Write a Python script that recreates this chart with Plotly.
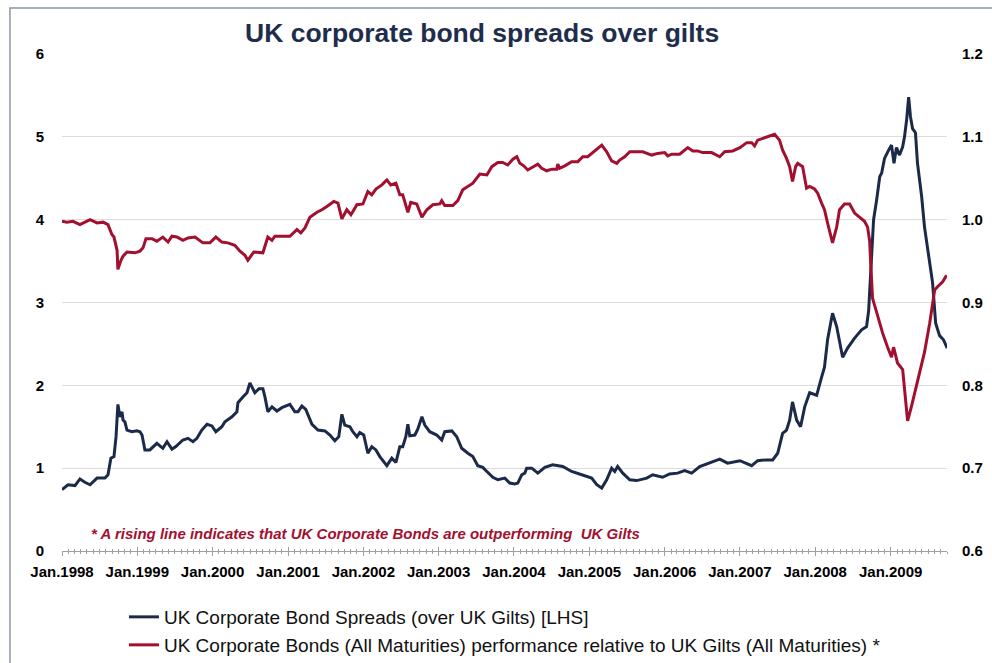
import plotly.graph_objects as go

# ---------------- data ----------------
spread_dates = [
    "1998-01-01", "1998-01-30", "1998-03-05", "1998-03-29", "1998-04-22", "1998-05-17", "1998-06-20",
    "1998-07-28", "1998-08-12", "1998-08-26", "1998-09-10", "1998-09-20", "1998-09-29", "1998-10-09",
    "1998-10-19", "1998-10-24", "1998-11-02", "1998-11-12", "1998-12-06", "1998-12-30", "1999-01-14",
    "1999-01-24", "1999-02-07", "1999-03-03", "1999-04-06", "1999-05-05", "1999-05-25", "1999-06-18",
    "1999-07-07", "1999-08-10", "1999-09-04", "1999-09-28", "1999-10-17", "1999-11-10", "1999-12-05",
    "1999-12-29", "2000-01-17", "2000-02-15", "2000-03-01", "2000-04-04", "2000-04-28", "2000-05-03",
    "2000-05-27", "2000-06-16", "2000-06-30", "2000-07-24", "2000-08-13", "2000-09-01", "2000-09-11",
    "2000-09-25", "2000-10-15", "2000-11-08", "2000-12-02", "2000-12-31", "2001-01-10", "2001-02-03",
    "2001-02-18", "2001-03-09", "2001-03-28", "2001-04-27", "2001-05-26", "2001-06-29", "2001-07-23",
    "2001-08-16", "2001-09-04", "2001-09-19", "2001-10-03", "2001-10-28", "2001-11-11", "2001-12-01",
    "2001-12-15", "2002-01-03", "2002-01-23", "2002-02-11", "2002-03-03", "2002-03-22", "2002-04-25",
    "2002-05-19", "2002-06-08", "2002-06-27", "2002-07-11", "2002-07-26", "2002-08-05", "2002-08-14",
    "2002-09-08", "2002-09-22", "2002-10-12", "2002-10-26", "2002-11-19", "2002-12-23", "2003-01-16",
    "2003-01-31", "2003-03-06", "2003-03-30", "2003-04-23", "2003-05-23", "2003-06-16", "2003-07-10",
    "2003-08-03", "2003-08-23", "2003-09-21", "2003-10-15", "2003-11-18", "2003-12-12", "2004-01-05",
    "2004-01-20", "2004-02-08", "2004-02-23", "2004-03-03", "2004-03-28", "2004-04-26", "2004-05-30",
    "2004-07-07", "2004-08-25", "2004-10-07", "2004-11-25", "2005-01-12", "2005-02-06", "2005-03-02",
    "2005-03-26", "2005-04-19", "2005-05-04", "2005-05-18", "2005-06-12", "2005-07-16", "2005-08-18",
    "2005-10-06", "2005-11-04", "2005-12-22", "2006-01-25", "2006-03-05", "2006-04-08", "2006-05-12",
    "2006-06-20", "2006-08-07", "2006-09-25", "2006-11-02", "2007-01-01", "2007-02-27", "2007-03-28",
    "2007-05-10", "2007-06-09", "2007-07-03", "2007-07-27", "2007-08-15", "2007-08-30", "2007-09-13",
    "2007-10-03", "2007-10-22", "2007-11-11", "2007-12-05", "2008-01-08", "2008-02-01", "2008-02-15",
    "2008-03-01", "2008-03-25", "2008-04-14", "2008-04-28", "2008-05-13", "2008-06-06", "2008-07-10",
    "2008-08-13", "2008-09-06", "2008-09-16", "2008-10-01", "2008-10-10", "2008-10-25", "2008-11-09",
    "2008-11-18", "2008-12-02", "2008-12-22", "2009-01-05", "2009-01-17", "2009-01-29", "2009-02-13",
    "2009-02-28", "2009-03-09", "2009-03-19", "2009-03-29", "2009-04-07", "2009-04-17", "2009-05-01",
    "2009-05-11", "2009-05-31", "2009-06-14", "2009-06-29", "2009-07-13", "2009-07-23", "2009-08-07",
    "2009-08-26", "2009-09-14", "2009-10-02",
]
spread_values = [
    0.74, 0.80, 0.79, 0.87, 0.83, 0.80, 0.88,
    0.88, 0.92, 1.12, 1.14, 1.38, 1.77, 1.62,
    1.68, 1.58, 1.56, 1.46, 1.44, 1.45, 1.44,
    1.40, 1.22, 1.22, 1.30, 1.24, 1.32, 1.23,
    1.26, 1.34, 1.36, 1.32, 1.36, 1.46, 1.53,
    1.51, 1.44, 1.50, 1.56, 1.62, 1.68, 1.79,
    1.86, 1.91, 2.03, 1.91, 1.96, 1.96, 1.86,
    1.68, 1.74, 1.69, 1.73, 1.76, 1.77, 1.68,
    1.68, 1.75, 1.71, 1.53, 1.46, 1.45, 1.40,
    1.33, 1.38, 1.65, 1.52, 1.50, 1.44, 1.38,
    1.43, 1.40, 1.18, 1.26, 1.22, 1.14, 1.03,
    1.12, 1.07, 1.26, 1.26, 1.38, 1.53, 1.39,
    1.40, 1.47, 1.62, 1.52, 1.44, 1.40, 1.34,
    1.44, 1.45, 1.38, 1.24, 1.18, 1.14, 1.03,
    1.01, 0.96, 0.89, 0.86, 0.88, 0.82, 0.81,
    0.82, 0.92, 0.94, 1.00, 1.00, 0.94, 1.01,
    1.04, 1.02, 0.96, 0.92, 0.88, 0.80, 0.76,
    0.86, 1.00, 0.96, 1.02, 0.94, 0.86, 0.85,
    0.88, 0.92, 0.89, 0.93, 0.94, 0.97, 0.94,
    1.02, 1.06, 1.11, 1.06, 1.09, 1.03, 1.09,
    1.10, 1.10, 1.18, 1.42, 1.46, 1.58, 1.80,
    1.58, 1.50, 1.74, 1.91, 1.88, 2.10, 2.22,
    2.55, 2.87, 2.71, 2.51, 2.34, 2.45, 2.57,
    2.67, 2.71, 2.90, 3.50, 4.00, 4.24, 4.52,
    4.56, 4.74, 4.84, 4.90, 4.68, 4.87, 4.78,
    4.88, 5.00, 5.20, 5.48, 5.24, 5.10, 5.05,
    4.68, 4.28, 3.91, 3.66, 3.43, 3.24, 2.75,
    2.60, 2.55, 2.45,
]

perf_dates = [
    "1998-01-01", "1998-01-25", "1998-02-23", "1998-03-29", "1998-05-17", "1998-06-20", "1998-07-19",
    "1998-08-12", "1998-08-31", "1998-09-10", "1998-09-25", "1998-09-29", "1998-10-14", "1998-10-24",
    "1998-11-12", "1998-12-21", "1999-01-14", "1999-01-29", "1999-02-12", "1999-03-13", "1999-04-06",
    "1999-05-05", "1999-05-30", "1999-06-18", "1999-07-12", "1999-08-10", "1999-09-04", "1999-10-08",
    "1999-11-15", "1999-12-19", "2000-01-17", "2000-02-15", "2000-03-15", "2000-04-18", "2000-05-13",
    "2000-06-06", "2000-06-20", "2000-07-19", "2000-09-01", "2000-09-25", "2000-10-15", "2000-10-29",
    "2000-12-17", "2001-01-10", "2001-02-13", "2001-03-04", "2001-03-24", "2001-04-17", "2001-05-21",
    "2001-06-14", "2001-07-08", "2001-08-11", "2001-08-31", "2001-09-19", "2001-10-13", "2001-11-02",
    "2001-12-01", "2001-12-30", "2002-01-23", "2002-02-11", "2002-03-03", "2002-04-01", "2002-04-25",
    "2002-05-14", "2002-06-08", "2002-06-27", "2002-07-11", "2002-08-05", "2002-08-19", "2002-09-17",
    "2002-10-12", "2002-11-05", "2002-12-04", "2003-01-07", "2003-01-16", "2003-01-31", "2003-03-11",
    "2003-04-04", "2003-04-28", "2003-05-23", "2003-06-16", "2003-07-20", "2003-08-23", "2003-09-16",
    "2003-10-15", "2003-11-08", "2003-12-02", "2003-12-27", "2004-01-15", "2004-01-30", "2004-02-18",
    "2004-03-08", "2004-04-02", "2004-04-26", "2004-05-15", "2004-06-08", "2004-07-03", "2004-07-27",
    "2004-08-01", "2004-08-10", "2004-09-04", "2004-10-07", "2004-11-06", "2004-11-30", "2004-12-24",
    "2005-01-27", "2005-03-02", "2005-03-26", "2005-04-19", "2005-05-14", "2005-05-28", "2005-06-21",
    "2005-07-16", "2005-08-23", "2005-09-17", "2005-10-30", "2005-11-28", "2006-01-01", "2006-01-16",
    "2006-02-04", "2006-03-15", "2006-04-23", "2006-05-17", "2006-06-10", "2006-07-04", "2006-08-17",
    "2006-09-25", "2006-10-19", "2006-11-27", "2007-01-01", "2007-02-03", "2007-02-27", "2007-03-13",
    "2007-03-28", "2007-05-10", "2007-06-18", "2007-07-12", "2007-07-27", "2007-08-15", "2007-08-30",
    "2007-09-13", "2007-09-28", "2007-10-08", "2007-11-01", "2007-11-20", "2007-12-05", "2007-12-29",
    "2008-01-13", "2008-02-01", "2008-02-15", "2008-03-01", "2008-03-25", "2008-04-14", "2008-04-28",
    "2008-05-22", "2008-06-16", "2008-07-10", "2008-08-03", "2008-08-27", "2008-09-11", "2008-09-21",
    "2008-09-26", "2008-10-05", "2008-10-25", "2008-11-09", "2008-11-23", "2008-12-17", "2009-01-05",
    "2009-01-15", "2009-02-03", "2009-02-28", "2009-03-14", "2009-03-24", "2009-04-12", "2009-04-27",
    "2009-05-21", "2009-06-14", "2009-07-09", "2009-08-02", "2009-08-16", "2009-09-10", "2009-09-29",
]
perf_values = [
    0.998, 0.997, 0.998, 0.994, 1.000, 0.996, 0.997,
    0.994, 0.982, 0.979, 0.963, 0.940, 0.951, 0.956,
    0.961, 0.960, 0.962, 0.966, 0.977, 0.977, 0.974,
    0.979, 0.973, 0.980, 0.979, 0.975, 0.978, 0.979,
    0.972, 0.972, 0.979, 0.973, 0.972, 0.969, 0.962,
    0.957, 0.951, 0.961, 0.960, 0.979, 0.975, 0.980,
    0.980, 0.980, 0.988, 0.984, 0.990, 1.003, 1.009,
    1.012, 1.016, 1.022, 1.020, 1.001, 1.012, 1.006,
    1.018, 1.019, 1.034, 1.030, 1.037, 1.042, 1.048,
    1.042, 1.044, 1.030, 1.030, 1.009, 1.021, 1.019,
    1.003, 1.012, 1.018, 1.019, 1.023, 1.017, 1.017,
    1.023, 1.036, 1.040, 1.044, 1.055, 1.054, 1.064,
    1.069, 1.069, 1.066, 1.073, 1.076, 1.068, 1.065,
    1.060, 1.064, 1.067, 1.062, 1.059, 1.061, 1.061,
    1.067, 1.062, 1.065, 1.070, 1.070, 1.076, 1.076,
    1.083, 1.090, 1.082, 1.071, 1.068, 1.072, 1.076,
    1.082, 1.082, 1.082, 1.078, 1.080, 1.081, 1.077,
    1.079, 1.079, 1.087, 1.083, 1.083, 1.081, 1.081,
    1.076, 1.082, 1.083, 1.087, 1.093, 1.093, 1.089,
    1.096, 1.100, 1.103, 1.096, 1.084, 1.074, 1.064,
    1.046, 1.064, 1.068, 1.064, 1.038, 1.040, 1.037,
    1.032, 1.020, 1.012, 0.996, 0.972, 0.991, 1.012,
    1.019, 1.019, 1.008, 1.003, 0.998, 0.991, 0.974,
    0.948, 0.905, 0.888, 0.875, 0.863, 0.846, 0.834,
    0.846, 0.827, 0.819, 0.785, 0.757, 0.775, 0.790,
    0.815, 0.840, 0.875, 0.915, 0.919, 0.925, 0.933,
]

title_text = "UK corporate bond spreads over gilts"
spread_name = "UK Corporate Bond Spreads (over UK Gilts) [LHS]"
perf_name = "UK Corporate Bonds (All Maturities) performance relative to UK Gilts (All Maturities) *"
note_text = "* A rising line indicates that UK Corporate Bonds are outperforming  UK Gilts"

# ---------------- styling ----------------
NAVY = "#1c2a4a"
CRIMSON = "#a3102f"
FONT = "Liberation Sans, Arial, sans-serif"
AX_GRAY = "#a0a0a0"
CLEAR = "rgba(0,0,0,0)"

fig = go.Figure()
fig.add_trace(go.Scatter(
    x=spread_dates, y=spread_values, name=spread_name, mode="lines",
    line=dict(color=NAVY, width=3), xaxis="x", yaxis="y", legend="legend",
))
fig.add_trace(go.Scatter(
    x=perf_dates, y=perf_values, name=perf_name, mode="lines",
    line=dict(color=CRIMSON, width=3), xaxis="x2", yaxis="y2", legend="legend2",
))

x_range = ["1998-01-01", "2009-10-01"]

fig.update_layout(
    width=992, height=663,
    margin=dict(l=62, r=45, t=54, b=112, autoexpand=False),
    paper_bgcolor="white", plot_bgcolor="white",
    font=dict(family=FONT, color="#000000"),
    showlegend=True,
    xaxis=dict(
        type="date", range=x_range, tick0="1998-01-01", dtick="M12",
        tickformat="%b.%Y", ticks="outside", ticklen=4, tickcolor=AX_GRAY, tickwidth=1,
        showline=True, linecolor=AX_GRAY, linewidth=1, showgrid=False, zeroline=False,
        tickfont=dict(family=FONT, size=15, color="#000000", weight="bold"),
        ticklabelstandoff=3,
        minor=dict(dtick="M1", ticks="outside", ticklen=2, tickcolor=AX_GRAY, showgrid=False),
    ),
    xaxis2=dict(
        type="date", range=x_range, overlaying="x", matches="x", anchor="y2", side="bottom",
        tick0="1998-01-01", dtick="M12", ticks="inside", ticklen=4, tickcolor=AX_GRAY,
        showticklabels=False, showline=False, showgrid=False, zeroline=False,
        minor=dict(dtick="M1", ticks="inside", ticklen=2, tickcolor=AX_GRAY, showgrid=False),
    ),
    yaxis=dict(
        range=[0, 6], dtick=1, tick0=0, showgrid=True, gridcolor="#dcdcdc", gridwidth=1,
        zeroline=False, showline=False, ticks="outside", ticklen=14, tickcolor=CLEAR,
        tickfont=dict(family=FONT, size=15, color="#000000", weight="bold"),
    ),
    yaxis2=dict(
        range=[0.6, 1.2], dtick=0.1, tick0=0.6, tickformat=".1f", overlaying="y", side="right",
        anchor="x", showgrid=False, zeroline=False, showline=False,
        ticks="outside", ticklen=11, tickcolor=CLEAR, ticklabelposition="outside",
        tickfont=dict(family=FONT, size=15, color="#000000", weight="bold"),
    ),
    legend=dict(
        xref="paper", yref="container", x=0.07, y=1 - 617 / 663, xanchor="left", yanchor="middle",
        bgcolor=CLEAR, font=dict(family=FONT, size=19, color="#111111"), itemwidth=30,
    ),
    legend2=dict(
        xref="paper", yref="container", x=0.07, y=1 - 645 / 663, xanchor="left", yanchor="middle",
        bgcolor=CLEAR, font=dict(family=FONT, size=19, color="#111111"), itemwidth=30,
    ),
    annotations=[
        dict(text="<b>" + title_text + "</b>", xref="paper", yref="paper",
             x=0.4746, y=1.042, xanchor="center", yanchor="middle", showarrow=False,
             font=dict(family=FONT, size=26.5, color="#1f2d4d")),
        dict(text="<b><i>" + note_text + "</i></b>", xref="paper", yref="paper",
             x=0.031, y=0.036, xanchor="left", yanchor="middle", showarrow=False,
             font=dict(family=FONT, size=15, color=CRIMSON)),
    ],
    shapes=[
        dict(type="rect", xref="paper", yref="paper", x0=-0.0588, x1=1.2, y0=-0.4, y1=1.0926,
             line=dict(color="#8b95a7", width=1.5), fillcolor=CLEAR, layer="below"),
    ],
)

fig.write_html("out.html")
